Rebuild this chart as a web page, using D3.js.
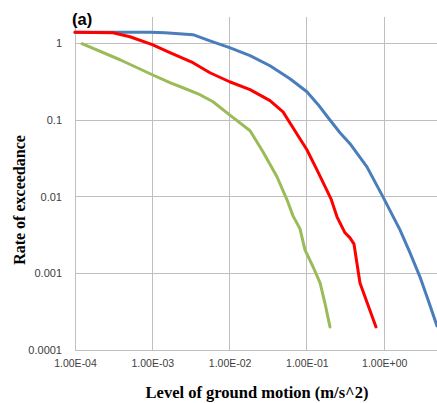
<!DOCTYPE html>
<html>
<head>
<meta charset="utf-8">
<script src="https://cdn.jsdelivr.net/npm/d3@7"></script>
<style>
  html, body { margin: 0; padding: 0; background: #fff; }
  svg { display: block; }
</style>
</head>
<body>
<svg id="chart" width="437" height="403"></svg>
<script>
// ---- data ----
const xTicks = [1e-4, 1e-3, 1e-2, 1e-1, 1];
const xTickLabels = ["1.00E-04", "1.00E-03", "1.00E-02", "1.00E-01", "1.00E+00"];
const yTicks = [1e-4, 1e-3, 1e-2, 1e-1, 1];
const yTickLabels = ["0.0001", "0.001", "0.01", "0.1", "1"];

const xBlue = [1e-4, 3.1e-4, 9.3e-4, 1.46e-3, 3.36e-3, 5.57e-3, 0.01, 0.0184, 0.0333, 0.0604, 0.1, 0.139, 0.193, 0.268, 0.361, 0.598, 0.964, 1.60, 2.16, 2.90, 3.69, 4.82];
const yBlue = [1.40, 1.40, 1.40, 1.38, 1.30, 1.08, 0.879, 0.691, 0.511, 0.346, 0.234, 0.160, 0.104, 0.0683, 0.0491, 0.0245, 0.00995, 0.00369, 0.00185, 0.0009, 0.000451, 0.000206];

const xRed = [1e-4, 3.1e-4, 5.14e-4, 1e-3, 1.69e-3, 3.36e-3, 5.57e-3, 0.01, 0.0184, 0.0333, 0.0491, 0.0661, 0.1, 0.135, 0.205, 0.245, 0.311, 0.361, 0.406, 0.486, 0.783];
const yRed = [1.40, 1.38, 1.22, 0.962, 0.757, 0.560, 0.414, 0.316, 0.249, 0.179, 0.128, 0.0793, 0.041, 0.0224, 0.00938, 0.00546, 0.00338, 0.0029, 0.00243, 0.00075, 0.0002];

const xGreen = [1.23e-4, 3.82e-4, 1e-3, 1.69e-3, 2.49e-3, 4.14e-3, 6.10e-3, 0.01, 0.0184, 0.027, 0.041, 0.0553, 0.0661, 0.0815, 0.0944, 0.12, 0.148, 0.171, 0.199];
const yGreen = [0.99, 0.612, 0.39, 0.307, 0.264, 0.214, 0.173, 0.117, 0.0725, 0.0386, 0.0182, 0.0091, 0.00562, 0.0038, 0.00202, 0.00122, 0.00075, 0.00041, 0.0002];

const seriesNames = ["blue", "red", "green"];
const seriesColors = ["#4A7EBB", "#FF0000", "#9BBB59"];

// ---- layout ----
const svg = d3.select("#chart");
const plotLeft = 75, plotRight = 437, plotTop = 17, plotBottom = 350;

const x = d3.scaleLog().domain([1e-4, 4.82]).range([plotLeft, plotRight]);
const y = d3.scaleLog().domain([1e-4, 2.21]).range([plotBottom, plotTop]);

const gridColor = "#BFBFBF";

// vertical gridlines
svg.append("g").selectAll("line").data(xTicks).join("line")
  .attr("x1", d => x(d)).attr("x2", d => x(d))
  .attr("y1", plotTop).attr("y2", plotBottom)
  .attr("stroke", gridColor).attr("stroke-width", 1).attr("shape-rendering", "crispEdges");

// horizontal gridlines
svg.append("g").selectAll("line").data(yTicks).join("line")
  .attr("x1", plotLeft).attr("x2", plotRight)
  .attr("y1", d => y(d)).attr("y2", d => y(d))
  .attr("stroke", gridColor).attr("stroke-width", 1).attr("shape-rendering", "crispEdges");

// axes (labels only)
const xAxis = d3.axisBottom(x).tickValues(xTicks)
  .tickFormat((d, i) => xTickLabels[i]).tickSize(0).tickPadding(10);
const gx = svg.append("g").attr("transform", `translate(0,${plotBottom})`).call(xAxis);
gx.select(".domain").remove();
gx.selectAll("text").attr("font-family", "'Liberation Sans', Arial, sans-serif")
  .attr("font-size", "10.5px").attr("fill", "#404040");

const yAxis = d3.axisLeft(y).tickValues(yTicks)
  .tickFormat((d, i) => yTickLabels[i]).tickSize(0).tickPadding(13);
const gy = svg.append("g").attr("transform", `translate(${plotLeft},0)`).call(yAxis);
gy.select(".domain").remove();
gy.selectAll("text").attr("font-family", "'Liberation Sans', Arial, sans-serif")
  .attr("font-size", "11px").attr("fill", "#404040");

// series
const line = d3.line().x(d => x(d[0])).y(d => y(d[1]));
const seriesData = [
  d3.zip(xBlue, yBlue),
  d3.zip(xRed, yRed),
  d3.zip(xGreen, yGreen)
];
svg.append("g").selectAll("path").data(seriesData).join("path")
  .attr("d", line)
  .attr("fill", "none")
  .attr("stroke", (d, i) => seriesColors[i])
  .attr("stroke-width", 3)
  .attr("stroke-linejoin", "round")
  .attr("stroke-linecap", "round");

// titles
svg.append("text")
  .attr("x", 257).attr("y", 398)
  .attr("text-anchor", "middle")
  .attr("font-family", "'Liberation Serif', 'Times New Roman', serif")
  .attr("font-weight", "bold").attr("font-size", "16.5px").attr("fill", "#000")
  .text("Level of ground motion (m/s^2)");

svg.append("text")
  .attr("transform", "translate(25,200) rotate(-90)")
  .attr("text-anchor", "middle")
  .attr("font-family", "'Liberation Serif', 'Times New Roman', serif")
  .attr("font-weight", "bold").attr("font-size", "16px").attr("fill", "#000")
  .text("Rate of exceedance");

svg.append("text")
  .attr("x", 72).attr("y", 25)
  .attr("font-family", "'Liberation Sans', Arial, sans-serif")
  .attr("font-weight", "bold").attr("font-size", "16.5px").attr("fill", "#000")
  .text("(a)");
</script>
</body>
</html>
